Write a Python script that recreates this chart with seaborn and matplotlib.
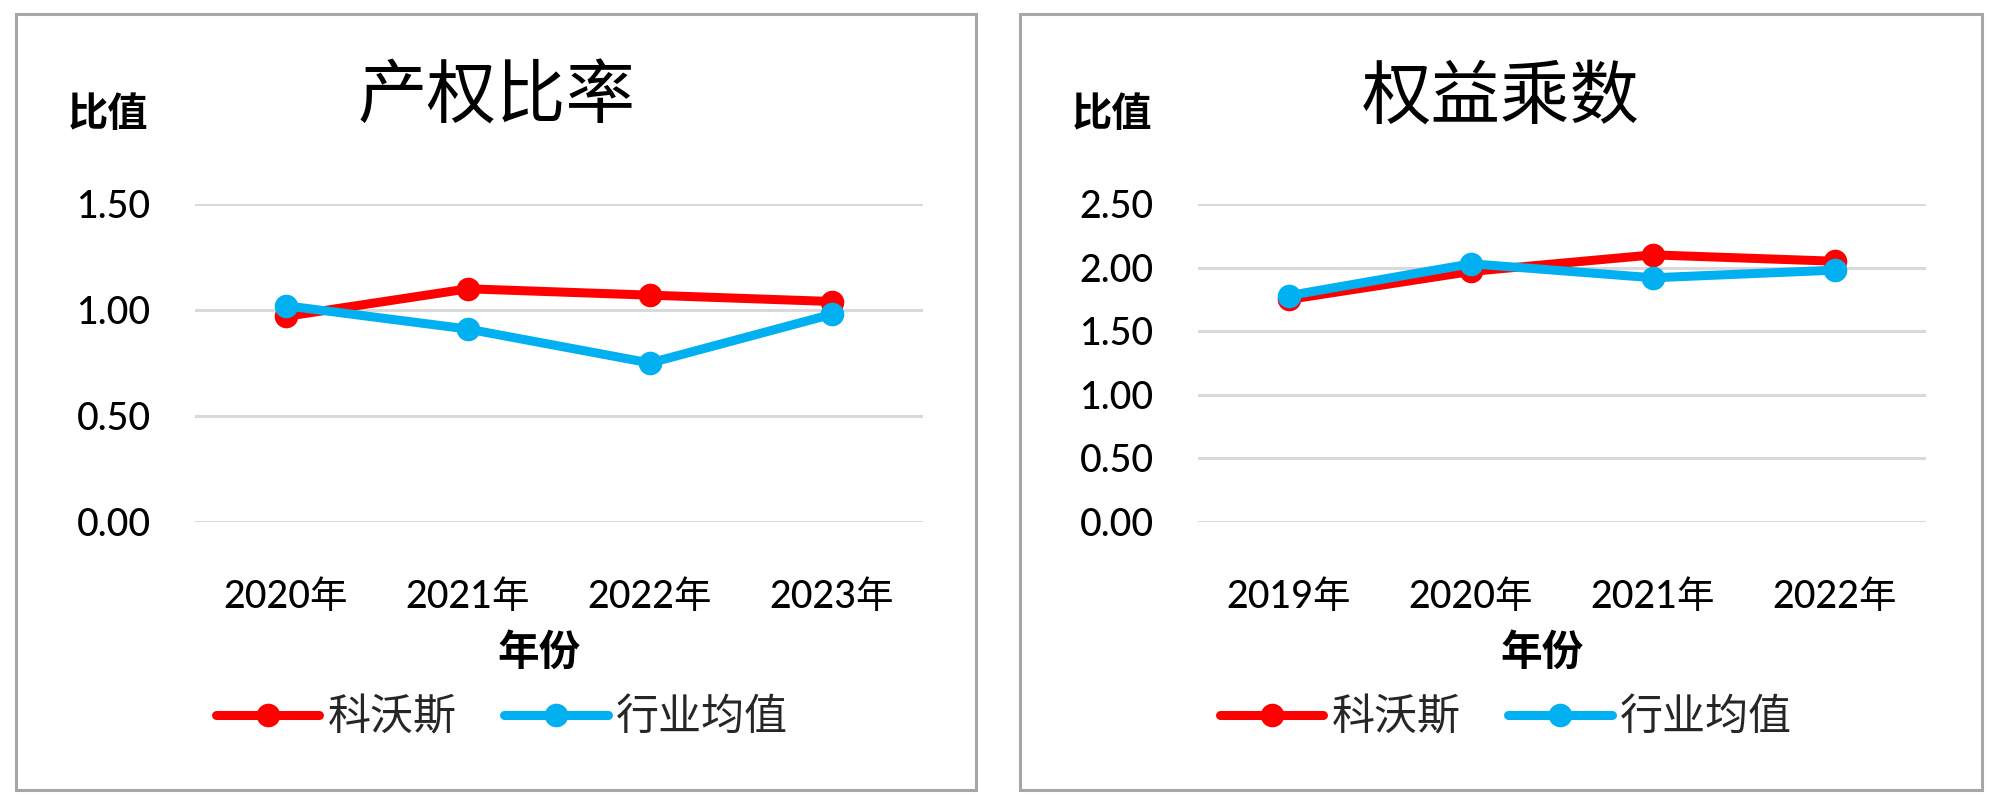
import matplotlib
matplotlib.use("Agg")
import matplotlib.pyplot as plt
import seaborn as sns
import pandas as pd
from matplotlib.patches import Rectangle

# ---- data ----
series_names = ["科沃斯", "行业均值"]
left_years = ["2020年", "2021年", "2022年", "2023年"]
left_ecovacs = [0.97, 1.10, 1.07, 1.04]
left_industry = [1.02, 0.91, 0.75, 0.98]
left_yticks = [0.00, 0.50, 1.00, 1.50]

right_years = ["2019年", "2020年", "2021年", "2022年"]
right_ecovacs = [1.75, 1.97, 2.10, 2.05]
right_industry = [1.78, 2.03, 1.92, 1.98]
right_yticks = [0.00, 0.50, 1.00, 1.50, 2.00, 2.50]

titles = ["产权比率", "权益乘数"]
ylabel = "比值"
xlabel = "年份"

sns.set_theme(style="white")
CJK = ["Noto Sans CJK SC", "DejaVu Sans"]
NUM = ["Lato", "Noto Sans CJK SC", "DejaVu Sans"]
plt.rcParams["font.family"] = CJK
plt.rcParams["axes.unicode_minus"] = False

palette = {"科沃斯": "#FF0000", "行业均值": "#00B0F0"}

fig = plt.figure(figsize=(20, 8.1), dpi=100)

def make_df(years, a, b):
    return pd.DataFrame({
        "year": years * 2,
        "value": a + b,
        "series": [series_names[0]] * len(years) + [series_names[1]] * len(years),
    })

panels = [
    dict(x0=195, years=left_years, a=left_ecovacs, b=left_industry, yt=left_yticks,
         title=titles[0], tx=497, ylx=108, xlx=539, lgx=216, box=(16, 976)),
    dict(x0=1198, years=right_years, a=right_ecovacs, b=right_industry, yt=right_yticks,
         title=titles[1], tx=1501, ylx=1112, xlx=1542, lgx=1220, box=(1020, 1982)),
]

W, H = 2000, 810
for p in panels:
    # border box
    bx0, bx1 = p["box"]
    fig.patches.append(Rectangle((bx0 / W, 1 - 790 / H), (bx1 - bx0) / W, (790 - 14) / H,
                                 transform=fig.transFigure, fill=False,
                                 edgecolor="#A6A6A6", linewidth=2.2, zorder=0))
    ax = fig.add_axes([p["x0"] / W, 1 - 522 / H, 728 / W, (522 - 204) / H])
    df = make_df(p["years"], p["a"], p["b"])
    sns.lineplot(data=df, x="year", y="value", hue="series", palette=palette,
                 marker="o", markersize=17, markeredgewidth=0, linewidth=6.5,
                 sort=False, ax=ax)
    ax.set_xlim(-0.5, len(p["years"]) - 0.5)
    ax.set_ylim(p["yt"][0], p["yt"][-1])
    ax.set_yticks(p["yt"])
    ax.set_yticklabels([f"{v:.2f}" for v in p["yt"]], fontfamily=NUM, fontsize=27,
                       fontweight="medium")
    ax.set_xticks(range(len(p["years"])))
    ax.set_xticklabels(p["years"], fontfamily=NUM, fontsize=27, fontweight="medium")
    ax.tick_params(axis="x", length=0, pad=42, colors="#000000")
    ax.tick_params(axis="y", length=0, pad=32, colors="#000000")
    ax.grid(axis="y", color="#D9D9D9", linewidth=2.2)
    ax.set_axisbelow(True)
    for s in ax.spines.values():
        s.set_visible(False)
    ax.set_xlabel("")
    ax.set_ylabel("")
    handles, labels = ax.get_legend_handles_labels()
    ax.get_legend().remove()
    fig.legend(handles, labels, loc="center left",
               bbox_to_anchor=(p["lgx"] / W, 1 - 718 / H),
               bbox_transform=fig.transFigure, ncol=2, frameon=False,
               prop={"family": CJK, "size": 31}, handlelength=2.4,
               handletextpad=0.2, columnspacing=1.1, borderpad=0, borderaxespad=0)
    fig.text(p["tx"] / W, 1 - 98 / H, p["title"], ha="center", va="center",
             fontsize=50, color="#000000")
    fig.text(p["ylx"] / W, 1 - 114 / H, ylabel, ha="center", va="center",
             fontsize=29, fontweight="bold", color="#000000")
    fig.text(p["xlx"] / W, 1 - 653 / H, xlabel, ha="center", va="center",
             fontsize=30, fontweight="bold", color="#000000")

fig.savefig("out.png", dpi=100, facecolor="white")
